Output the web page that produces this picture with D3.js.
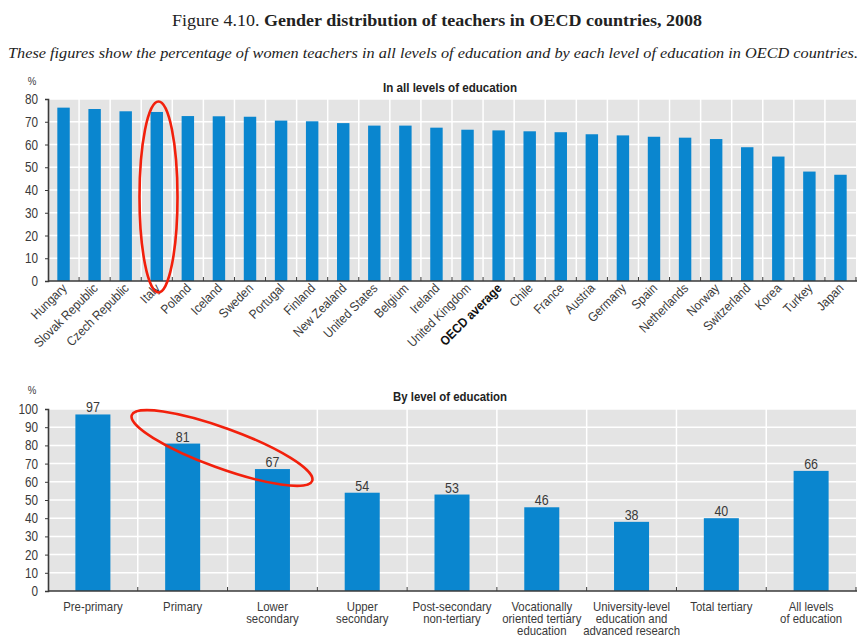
<!DOCTYPE html>
<html>
<head>
<meta charset="utf-8">
<script src="https://cdn.jsdelivr.net/npm/d3@7"></script>
<style>
  html, body { margin: 0; padding: 0; background: #fff; }
  svg { display: block; }
  .lbl { font-family: "Liberation Sans", Arial, sans-serif; fill: #3a3a3a; }
</style>
</head>
<body>
<svg id="chart" width="861" height="638"></svg>
<script>
// Share of women among teachers, all levels of education (%)
const countries = ["Hungary", "Slovak Republic", "Czech Republic", "Italy", "Poland", "Iceland",
  "Sweden", "Portugal", "Finland", "New Zealand", "United States", "Belgium", "Ireland",
  "United Kingdom", "OECD average", "Chile", "France", "Austria", "Germany", "Spain",
  "Netherlands", "Norway", "Switzerland", "Korea", "Turkey", "Japan"];
const countryShares = [76.2, 75.6, 74.6, 74.3, 72.5, 72.4, 72.2, 70.5, 70.2, 69.4, 68.3, 68.3,
  67.4, 66.5, 66.2, 65.8, 65.4, 64.5, 64.0, 63.4, 63.0, 62.4, 58.8, 54.7, 48.1, 46.7];
const countryTicks = [0, 10, 20, 30, 40, 50, 60, 70, 80];

// Share of women among teachers by level of education (%)
const levels = [
  ["Pre-primary"],
  ["Primary"],
  ["Lower", "secondary"],
  ["Upper", "secondary"],
  ["Post-secondary", "non-tertiary"],
  ["Vocationally", "oriented tertiary", "education"],
  ["University-level", "education and", "advanced research"],
  ["Total tertiary"],
  ["All levels", "of education"]
];
const levelShares = [97, 81, 67, 54, 53, 46, 38, 40, 66];
const levelTicks = [0, 10, 20, 30, 40, 50, 60, 70, 80, 90, 100];

const BAR = "#0a86cf";
const PANEL = "#e4e4e4";
const AXIS = "#3a3a3a";

const svg = d3.select("#chart");

// Heading
const head = svg.append("text")
  .attr("x", 437).attr("y", 26)
  .attr("text-anchor", "middle")
  .attr("textLength", 530).attr("lengthAdjust", "spacingAndGlyphs")
  .style("font-family", "'Liberation Serif', 'DejaVu Serif', serif")
  .style("font-size", "17.5px")
  .style("fill", "#222");
head.append("tspan").text("Figure 4.10.  ");
head.append("tspan").style("font-weight", "bold")
  .text("Gender distribution of teachers in OECD countries, 2008");

svg.append("text")
  .attr("x", 433).attr("y", 58)
  .attr("text-anchor", "middle")
  .attr("textLength", 850).attr("lengthAdjust", "spacingAndGlyphs")
  .style("font-family", "'Liberation Serif', 'DejaVu Serif', serif")
  .style("font-style", "italic")
  .style("font-size", "15.5px")
  .style("fill", "#222")
  .text("These figures show the percentage of women teachers in all levels of education and by each level of education in OECD countries.");

// condensed sans label placed at (x, y)
function narrowText(parent, x, y, txt, size, anchor, squeeze) {
  return parent.append("text").attr("class", "lbl")
    .attr("transform", `translate(${x},${y}) scale(${squeeze || 0.84},1)`)
    .attr("text-anchor", anchor || "middle")
    .style("font-size", size + "px")
    .text(txt);
}

function panel(opts) {
  const { cats, values, ticks, top, bottom, maxV, title, titleY, titleW, pctY, pad } = opts;
  const left = 48, right = 856;
  const x = d3.scaleBand().domain(d3.range(cats.length)).range([left, right]).paddingInner(0).paddingOuter(0);
  const y = d3.scaleLinear().domain([0, maxV]).range([bottom, top]);
  const g = svg.append("g");

  g.append("rect")
    .attr("x", left).attr("y", y(maxV))
    .attr("width", right - left).attr("height", y(0) - y(maxV))
    .attr("fill", PANEL);

  // horizontal grid
  g.append("g").selectAll("line").data(ticks.filter(t => t > 0)).join("line")
    .attr("x1", left).attr("x2", right)
    .attr("y1", d => y(d)).attr("y2", d => y(d))
    .attr("stroke", "#fff").attr("stroke-width", 1.5);

  // vertical separators between categories
  const bounds = d3.range(1, cats.length).map(i => x(i));
  g.append("g").selectAll("line").data(bounds).join("line")
    .attr("x1", d => d).attr("x2", d => d)
    .attr("y1", y(maxV)).attr("y2", y(0))
    .attr("stroke", "#fff").attr("stroke-width", 1.5);

  const bw = x.bandwidth() * (1 - pad);
  g.append("g").selectAll("rect").data(values).join("rect")
    .attr("x", (d, i) => x(i) + (x.bandwidth() - bw) / 2)
    .attr("y", d => y(d))
    .attr("width", bw)
    .attr("height", d => y(0) - y(d))
    .attr("fill", BAR);

  // x axis line + category ticks
  g.append("line").attr("x1", left).attr("x2", right + 1)
    .attr("y1", y(0)).attr("y2", y(0))
    .attr("stroke", AXIS).attr("stroke-width", 1.6);
  g.append("g").selectAll("line").data(bounds.concat([right])).join("line")
    .attr("x1", d => d).attr("x2", d => d)
    .attr("y1", y(0) - 4).attr("y2", y(0))
    .attr("stroke", AXIS).attr("stroke-width", 1);

  // y axis
  const yAxis = d3.axisLeft(y).tickValues(ticks).tickSize(3).tickPadding(0).tickFormat(() => "");
  const ya = g.append("g").attr("transform", `translate(${left},0)`).call(yAxis);
  ya.select(".domain").attr("stroke", AXIS).attr("stroke-width", 1.6);
  ya.selectAll(".tick line").attr("stroke", AXIS);
  ticks.forEach(t => narrowText(g, 38, y(t) + 5, String(t), 14, "end"));

  narrowText(svg, 32, pctY, "%", 11.5, "middle");

  svg.append("text").attr("class", "lbl")
    .attr("x", 450).attr("y", titleY)
    .attr("text-anchor", "middle")
    .attr("textLength", titleW).attr("lengthAdjust", "spacingAndGlyphs")
    .style("font-size", "13px").style("font-weight", "bold")
    .style("fill", "#222")
    .text(title);

  return { x, y, g, bw };
}

// Top panel: all levels, by country
const p1 = panel({
  cats: countries, values: countryShares, ticks: countryTicks,
  top: 99, bottom: 281, maxV: 80, pad: 0.6,
  title: "In all levels of education", titleY: 92, titleW: 134, pctY: 85
});
p1.g.append("g").selectAll("text").data(countries).join("text")
  .attr("class", "lbl")
  .attr("text-anchor", "end")
  .attr("transform", (d, i) => `translate(${p1.x(i) + p1.x.bandwidth() / 2 + 4},${289}) rotate(-45) scale(0.9,1)`)
  .style("font-size", "13px")
  .style("font-weight", d => d === "OECD average" ? "bold" : "normal")
  .style("fill", d => d === "OECD average" ? "#111" : "#3a3a3a")
  .text(d => d);

// Bottom panel: by level of education
const p2 = panel({
  cats: levels, values: levelShares, ticks: levelTicks,
  top: 409, bottom: 591, maxV: 100, pad: 0.61,
  title: "By level of education", titleY: 401, titleW: 114, pctY: 394
});
levelShares.forEach((v, i) => {
  narrowText(p2.g, p2.x(i) + p2.x.bandwidth() / 2, p2.y(v) - 2, String(v), 14.5, "middle", 0.86);
});
levels.forEach((lines, i) => {
  const cx = p2.x(i) + p2.x.bandwidth() / 2;
  lines.forEach((line, k) => narrowText(p2.g, cx, 610.5 + k * 12.3, line, 12, "middle", 0.95));
});

// Highlight marks
svg.append("ellipse")
  .attr("cx", 158.5).attr("cy", 197).attr("rx", 19).attr("ry", 95.5)
  .attr("fill", "none").attr("stroke", "#f2200c").attr("stroke-width", 2.6);
svg.append("ellipse")
  .attr("transform", "translate(222,448) rotate(20)")
  .attr("rx", 96).attr("ry", 20)
  .attr("fill", "none").attr("stroke", "#f2200c").attr("stroke-width", 2.6);
</script>
</body>
</html>
